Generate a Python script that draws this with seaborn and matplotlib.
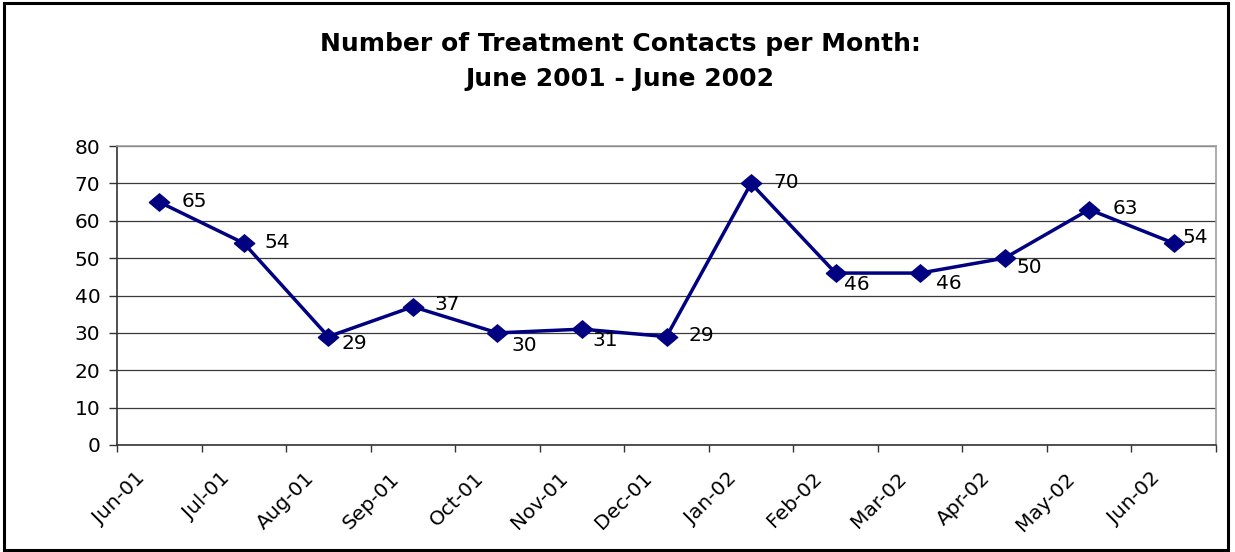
import matplotlib
matplotlib.use("Agg")
import matplotlib.pyplot as plt
import seaborn as sns
import pandas as pd
from matplotlib.patches import Rectangle

months = ["Jun-01", "Jul-01", "Aug-01", "Sep-01", "Oct-01", "Nov-01", "Dec-01",
          "Jan-02", "Feb-02", "Mar-02", "Apr-02", "May-02", "Jun-02"]
contacts = [65, 54, 29, 37, 30, 31, 29, 70, 46, 46, 50, 63, 54]
y_ticks = [0, 10, 20, 30, 40, 50, 60, 70, 80]
title_lines = ["Number of Treatment Contacts per Month:", "June 2001 - June 2002"]

# label offsets in pixels (dx, dy) relative to marker, dy positive = up
label_offsets = [(22, 1), (21, 1), (13, -7), (22, 2), (14, -13), (10, -11), (22, 1),
                 (22, 1), (8, -11), (16, -10), (12, -9), (23, 1), (9, 6)]

sns.set_theme(style="white")
plt.rcParams["font.family"] = ["DejaVu Sans"]
plt.rcParams["text.color"] = "black"
plt.rcParams["xtick.color"] = "black"
plt.rcParams["ytick.color"] = "black"

NAVY = "#000080"
FS = 14.5
fig = plt.figure(figsize=(12.35, 5.52), dpi=100)
ax = fig.add_axes([117 / 1235, 1 - 445 / 552, (1216 - 117) / 1235, (445 - 146) / 552])

df = pd.DataFrame({"month": months, "contacts": contacts})
df["pos"] = range(len(months))
diamond = [(-1, 0), (0, 0.85), (1, 0), (0, -0.85), (-1, 0)]
sns.lineplot(data=df, x="pos", y="contacts", ax=ax, color=NAVY, linewidth=2.5,
             marker=diamond, markersize=15, markeredgecolor=NAVY,
             markerfacecolor=NAVY, zorder=3)

for (xp, yv), (dx, dy) in zip(zip(df["pos"], df["contacts"]), label_offsets):
    ax.annotate(str(yv), (xp, yv), xytext=(dx, dy), textcoords="offset pixels",
                ha="left", va="center", fontsize=FS, color="black", zorder=4)

ax.set_xlim(-0.5, len(months) - 0.5)
ax.set_ylim(0, 80)
ax.set_yticks(y_ticks)
ax.set_yticklabels([str(v) for v in y_ticks], fontsize=FS)
ax.yaxis.grid(True, color="#3a3a3a", linewidth=0.9)
ax.set_axisbelow(True)

# category boundary ticks (major) and labels (minor)
ax.set_xticks([i - 0.5 for i in range(len(months) + 1)])
ax.set_xticklabels([])
ax.set_xticks([i - 0.2 for i in range(len(months))], minor=True)
ax.set_xticklabels(months, minor=True, rotation=45, ha="right", va="center",
                   rotation_mode="anchor", fontsize=FS)
ax.tick_params(axis="x", which="major", direction="out", length=5, width=1,
               color="#333333", bottom=True)
ax.tick_params(axis="x", which="minor", length=0, pad=22, bottom=True)
ax.tick_params(axis="y", which="major", direction="out", length=6, width=1,
               color="#333333", left=True, pad=6)
ax.set_xlabel("")
ax.set_ylabel("")

for side in ["left", "bottom"]:
    ax.spines[side].set_color("#333333")
    ax.spines[side].set_linewidth(1.2)
for side in ["top", "right"]:
    ax.spines[side].set_color("#a0a0a0")
    ax.spines[side].set_linewidth(1.2)
    ax.spines[side].set_visible(True)

fig.text(0.502, 1 - 44 / 552, title_lines[0], ha="center", va="center",
         fontsize=18, fontweight="bold")
fig.text(0.502, 1 - 79 / 552, title_lines[1], ha="center", va="center",
         fontsize=18, fontweight="bold")

fig.patches.append(Rectangle((3.5 / 1235, 2.5 / 552), (1228 - 3.5) / 1235,
                             (549 - 2.5) / 552, transform=fig.transFigure,
                             fill=False, edgecolor="black", linewidth=2.2))

fig.savefig("out.png", dpi=100, facecolor="white")
